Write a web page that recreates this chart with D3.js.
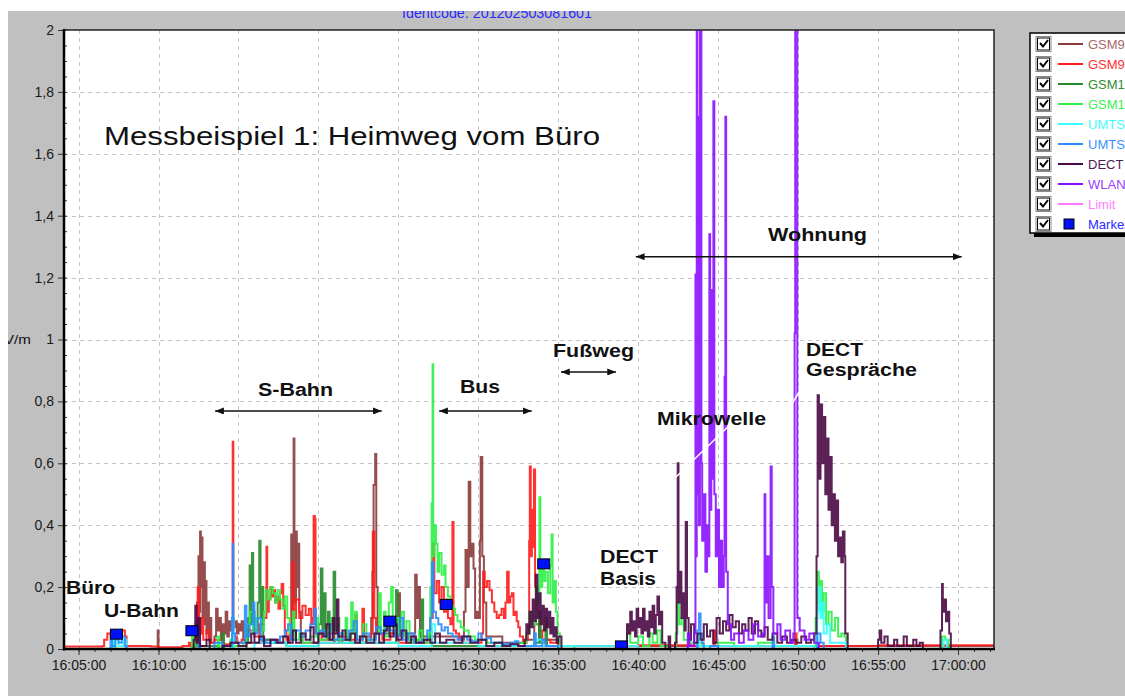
<!DOCTYPE html>
<html>
<head>
<meta charset="utf-8">
<script src="https://cdn.jsdelivr.net/npm/d3@7/dist/d3.min.js"></script>
<style>
  html, body { margin: 0; padding: 0; background: #fff; }
  svg { display: block; font-family: "Liberation Sans", Arial, sans-serif; }
</style>
</head>
<body>
<svg id="chart" width="1125" height="696"></svg>
<script>
// time = minutes after 16:00, value = field strength in V/m
var gsm900dl = [[4.1,0],[9.9,0],[9.95,0.06],[10.0,0],[12.2,0],[12.3,0.05],[12.4,0.15],[12.45,0.05],[12.5,0.3],[12.55,0.12],[12.6,0.38],[12.65,0.2],[12.7,0.36],[12.75,0.1],[12.85,0.28],[12.9,0.08],[12.95,0.22],[13.0,0.05],[13.1,0.15],[13.15,0.03],[13.25,0.1],[13.3,0.02],
  [13.5,0.04],[13.6,0.13],[13.7,0.06],[13.8,0.1],[13.9,0.03],[14.0,0.08],[14.1,0.05],[14.2,0.12],[14.3,0.04],[14.4,0.09],[14.5,0.06],[14.6,0.1],[14.7,0.07],[14.8,0.09],[14.9,0.05],[15.0,0.08],[15.1,0.06],[15.2,0.09],[15.3,0.03],
  [15.5,0.02],[16.5,0.03],[17.5,0.02],[18.2,0.03],[18.3,0.37],[18.35,0.1],[18.45,0.68],[18.5,0.15],[18.6,0.38],[18.65,0.2],[18.75,0.34],[18.8,0.12],[18.9,0.05],[19.0,0.02],
  [20,0.02],[21,0.03],[22,0.02],[23.0,0.03],[23.3,0.1],[23.38,0.25],[23.45,0.53],[23.55,0.63],[23.62,0.2],[23.7,0.05],[24.9,0.04],[25.0,0.18],[25.1,0.05],
  [26.0,0.05],[26.05,0.24],[26.15,0.1],[26.25,0.2],[26.35,0.04],[28.9,0.03],[29.1,0.12],[29.2,0.32],[29.3,0.2],[29.4,0.54],[29.5,0.3],[29.6,0.34],[29.7,0.26],[29.8,0.1],[29.9,0.12],[30.0,0.1],[30.1,0.35],[30.15,0.62],[30.25,0.3],[30.35,0.15],[30.5,0.04],
  [31.5,0.02],[33.0,0.03],[33.5,0.08],[33.8,0.03],[35,0.01],[62.3,0.005]];

var gsm900ul = [[4.1,0.008],[6.5,0.01],[6.6,0.03],[6.8,0.05],[7.0,0.04],[7.2,0.055],[7.5,0.05],[7.7,0.06],[7.9,0.04],[8.0,0.01],[9.5,0.008],[10.0,0.006],[11.5,0.01],[11.9,0.02],
  [12.0,0.01],[12.3,0.08],[12.45,0.2],[12.55,0.05],[12.7,0.1],[12.8,0.03],[13.0,0.06],[13.2,0.02],[13.5,0.03],[14.0,0.015],[14.5,0.02],[14.6,0.03],[14.64,0.67],[14.68,0.04],[14.9,0.02],[15.2,0.03],[15.5,0.06],
  [16.0,0.04],[16.3,0.08],[16.6,0.1],[16.75,0.33],[16.8,0.12],[16.9,0.16],[17.0,0.2],[17.1,0.17],[17.2,0.19],[17.3,0.15],[17.4,0.17],[17.5,0.13],[17.6,0.18],[17.7,0.21],[17.8,0.14],[17.9,0.06],[18.0,0.03],
  [18.2,0.05],[18.35,0.28],[18.45,0.1],[18.6,0.16],[18.8,0.1],[19.0,0.14],[19.2,0.11],[19.4,0.13],[19.55,0.08],[19.65,0.1],[19.7,0.43],[19.78,0.42],[19.82,0.05],
  [20.2,0.03],[20.6,0.05],[21.0,0.02],[21.5,0.04],[22.0,0.03],[22.3,0.11],[22.4,0.03],[22.75,0.13],[22.85,0.04],[23.3,0.05],[23.4,0.38],[23.5,0.1],[23.6,0.05],
  [24.0,0.03],[24.5,0.05],[25.0,0.02],[25.5,0.04],[26.0,0.02],[26.8,0.03],[27.0,0.1],[27.15,0.34],[27.25,0.18],[27.4,0.22],[27.55,0.15],[27.7,0.2],[27.85,0.12],[28.0,0.16],[28.1,0.1],[28.25,0.08],[28.38,0.41],[28.45,0.06],[28.6,0.05],[28.8,0.03],[29.0,0.02],
  [30.2,0.05],[30.3,0.25],[30.4,0.2],[30.55,0.22],[30.7,0.19],[30.85,0.15],[31.0,0.12],[31.15,0.1],[31.3,0.11],[31.45,0.13],[31.6,0.1],[31.7,0.15],[31.8,0.25],[31.9,0.15],[32.0,0.17],[32.1,0.18],[32.2,0.11],[32.3,0.12],[32.4,0.09],[32.5,0.07],[32.6,0.04],[32.8,0.02],[33.0,0.03],
  [33.1,0.05],[33.18,0.35],[33.22,0.59],[33.28,0.3],[33.35,0.45],[33.42,0.33],[33.48,0.58],[33.55,0.2],[33.65,0.12],[33.8,0.06],[34.0,0.03],[34.5,0.02],[35.0,0.01],
  [40,0.012],[43.5,0.01],[44.7,0.06],[44.8,0.01],[48,0.01],[49.8,0.05],[49.9,0.01],[55,0.012],[62.3,0.012]];

var gsm1800dl = [[4.1,0],[12.0,0],[12.2,0.03],[12.3,0.06],[12.4,0.01],[13.8,0],[14.0,0.05],[14.1,0],
  [15.5,0.02],[15.6,0.1],[15.7,0.27],[15.78,0.08],[15.85,0.31],[15.92,0.12],[16.0,0.06],[16.2,0.15],[16.3,0.35],[16.38,0.1],[16.45,0.2],[16.55,0.03],[17.0,0.02],[18.0,0.01],
  [19.8,0.01],[20.0,0.08],[20.15,0.26],[20.25,0.05],[20.35,0.18],[20.45,0.04],[20.6,0.12],[20.7,0.03],[20.95,0.25],[21.05,0.06],[21.2,0.1],[21.3,0.02],
  [24.7,0.02],[24.85,0.19],[24.95,0.05],[25.5,0.03],[26.3,0.02],[26.45,0.16],[26.55,0.03],[27.0,0.06],[27.1,0.01],
  [33.5,0.02],[33.8,0.12],[33.9,0.02],[34.2,0.1],[34.3,0.01],[35,0],[62.3,0]];

var gsm1800ul = [[4.1,0],[6.9,0],[7.1,0.03],[7.3,0],[11.9,0],[12.1,0.05],[12.2,0.02],[12.3,0],[13.7,0.04],[13.8,0],[14.5,0.03],[14.7,0.01],
  [15.3,0.02],[15.5,0.08],[15.7,0.12],[15.9,0.05],[16.1,0.1],[16.4,0.06],[16.6,0.12],[16.7,0.19],[16.85,0.16],[17.0,0.2],[17.15,0.18],[17.3,0.15],[17.45,0.19],[17.6,0.16],[17.75,0.13],[17.9,0.17],[18.05,0.1],[18.2,0.05],[18.4,0.12],[18.5,0.03],[18.8,0.05],[19.0,0.02],
  [19.5,0.04],[19.9,0.1],[20.0,0.03],[20.5,0.06],[20.8,0.1],[20.9,0.03],[21.5,0.05],[21.7,0.1],[21.8,0.03],[22.05,0.15],[22.15,0.05],[22.3,0.12],[22.4,0.04],[22.8,0.08],[23.0,0.03],[23.5,0.05],[23.8,0.18],[23.9,0.06],[24.1,0.12],[24.2,0.04],[24.4,0.15],[24.55,0.2],[24.65,0.07],[24.8,0.1],[25.0,0.05],[25.2,0.12],[25.35,0.04],[25.5,0.09],[25.7,0.02],[26.0,0.03],[26.3,0.06],[26.5,0.02],
  [26.9,0.05],[27.0,0.2],[27.08,0.47],[27.14,0.92],[27.18,0.3],[27.25,0.4],[27.35,0.34],[27.45,0.25],[27.55,0.31],[27.7,0.24],[27.85,0.27],[27.95,0.2],[28.1,0.17],[28.25,0.14],[28.4,0.13],[28.55,0.11],[28.7,0.09],[28.9,0.07],[29.1,0.06],[29.4,0.04],[29.8,0.03],[30.5,0.02],[31.5,0.01],[32.5,0.02],[33.0,0.05],
  [33.2,0.12],[33.4,0.08],[33.6,0.2],[33.75,0.15],[33.82,0.49],[33.88,0.2],[34.0,0.28],[34.1,0.22],[34.2,0.25],[34.35,0.18],[34.5,0.27],[34.58,0.37],[34.65,0.15],[34.75,0.22],[34.85,0.12],[34.95,0.05],[35.1,0.01],[36,0],
  [39.2,0],[39.3,0.05],[39.5,0.02],[40.0,0.04],[40.3,0.01],[40.7,0.05],[40.9,0.02],[41.2,0.06],[41.4,0.01],[42.0,0],[42.35,0.05],[42.45,0.15],[42.55,0.08],[42.7,0.1],[42.85,0.03],[43.2,0.02],[44,0.01],[45,0.02],[46,0.01],[47.5,0.02],[48.5,0.01],
  [50.9,0.01],[51.1,0.1],[51.2,0.25],[51.3,0.15],[51.4,0.22],[51.5,0.12],[51.6,0.18],[51.75,0.08],[51.9,0.12],[52.1,0.06],[52.3,0.1],[52.5,0.04],[52.7,0.05],[52.9,0.04],[53.0,0],
  [58.8,0],[59.0,0.04],[59.2,0.03],[59.4,0],[62.3,0]];

var umtsdl = [[4.1,0],[7.0,0],[7.2,0.03],[7.5,0.01],[7.8,0.03],[8.0,0],[14.5,0],[14.64,0.1],[14.7,0],[16,0.02],[18,0.01],[20,0.02],[25,0.01],[27.1,0.08],[27.3,0.02],[30,0.01],[33.5,0.03],[34,0.01],[40,0],
  [43.5,0],[43.7,0.05],[43.8,0.01],[51.0,0],[51.2,0.12],[51.3,0.2],[51.4,0.1],[51.5,0.15],[51.6,0.05],[51.8,0.08],[52.0,0.02],[52.5,0.02],[53,0],[59.0,0],[59.1,0.03],[59.3,0],[62.3,0]];

var umtsul = [[4.1,0],[6.9,0],[7.0,0.03],[7.1,0.01],[7.3,0.04],[7.5,0.02],[7.7,0.04],[7.9,0.01],[8.0,0],[12.2,0],[12.5,0.05],[12.6,0],[13.5,0.02],[14.0,0.01],[14.6,0.1],[14.64,0.34],[14.68,0.05],[14.8,0.02],
  [15.2,0.02],[15.4,0.14],[15.5,0.04],[15.7,0.08],[15.9,0.15],[16.0,0.05],[16.2,0.1],[16.4,0.03],[16.7,0.02],[17.0,0.03],[17.3,0.02],[17.6,0.04],[17.9,0.06],[18.1,0.08],[18.3,0.03],[18.6,0.06],[18.9,0.04],[19.2,0.06],[19.5,0.08],[19.75,0.13],[19.85,0.05],
  [20.1,0.06],[20.4,0.04],[20.7,0.08],[20.9,0.03],[21.2,0.05],[21.5,0.03],[21.9,0.06],[22.2,0.09],[22.4,0.03],[22.8,0.05],[23.2,0.03],[23.6,0.07],[23.9,0.05],[24.2,0.08],[24.5,0.06],[24.8,0.04],[25.1,0.1],[25.3,0.03],[25.6,0.05],[26.0,0.02],[26.5,0.03],[26.8,0.06],
  [27.0,0.1],[27.1,0.28],[27.2,0.12],[27.35,0.1],[27.5,0.08],[27.7,0.06],[27.9,0.07],[28.1,0.05],[28.4,0.04],[28.7,0.03],[29.0,0.04],[29.3,0.03],[29.6,0.025],[30.0,0.05],[30.2,0.03],[30.5,0.035],[30.8,0.02],[31.2,0.02],[31.6,0.015],[32.0,0.02],[32.3,0.025],[32.5,0.01],
  [33.0,0.01],[33.5,0.05],[33.6,0.01],[34.0,0.03],[34.2,0.01],[35,0],[43.5,0],[43.7,0.06],[43.8,0.115],[43.9,0.05],[44.0,0.02],[44.1,0],[44.5,0.01],[45,0],[48.3,0],[48.4,0.04],[48.5,0],[51,0],[51.2,0.05],[51.4,0.02],[51.6,0],[62.3,0]];

var dect = [[4.1,0],[12.0,0],[12.2,0.03],[12.3,0.14],[12.38,0.02],[12.5,0.1],[12.6,0.01],[13.0,0.03],[13.2,0],[14.0,0.01],[14.5,0.02],[15.0,0.01],
  [15.5,0.02],[15.8,0.05],[16.0,0.02],[16.3,0.04],[16.6,0.01],[17.0,0.03],[17.4,0.02],[17.8,0.04],[18.1,0.02],[18.4,0.06],[18.6,0.02],[18.9,0.05],[19.2,0.03],[19.5,0.07],[19.7,0.02],[20.0,0.05],[20.3,0.04],[20.5,0.08],[20.7,0.03],[20.9,0.1],[21.0,0.05],[21.15,0.16],[21.25,0.04],[21.5,0.06],[21.7,0.03],[22.0,0.05],[22.3,0.02],[22.6,0.04],[23.0,0.02],[23.5,0.05],[23.8,0.02],[24.1,0.06],[24.3,0.1],[24.45,0.04],[24.7,0.08],[24.9,0.03],[25.2,0.06],[25.5,0.02],[25.8,0.04],[26.1,0.02],[26.6,0.03],[27.0,0.02],[27.3,0.05],[27.6,0.02],[28.0,0.03],[28.5,0.02],[29.0,0.04],[29.5,0.02],[30.0,0.03],[30.5,0.01],[31.0,0.02],[31.5,0.01],[32.0,0.015],[32.5,0.01],
  [32.9,0.03],[33.0,0.08],[33.1,0.05],[33.2,0.12],[33.3,0.07],[33.4,0.16],[33.5,0.09],[33.6,0.24],[33.7,0.1],[33.8,0.18],[33.9,0.08],[34.0,0.14],[34.1,0.06],[34.2,0.13],[34.3,0.07],[34.4,0.12],[34.5,0.05],[34.6,0.1],[34.7,0.04],[34.8,0.07],[34.9,0.02],[35.0,0.04],[35.2,0],
  [39.2,0],[39.3,0.08],[39.4,0.05],[39.5,0.12],[39.6,0.06],[39.7,0.09],[39.8,0.04],[39.9,0.13],[40.0,0.07],[40.1,0.1],[40.2,0.05],[40.3,0.13],[40.4,0.06],[40.5,0.09],[40.6,0.04],[40.7,0.12],[40.8,0.07],[40.9,0.14],[41.0,0.05],[41.1,0.11],[41.2,0.17],[41.3,0.08],[41.4,0.12],[41.5,0.02],[41.7,0],[41.9,0.04],[42.0,0],
  [42.3,0.02],[42.4,0.2],[42.47,0.6],[42.52,0.15],[42.6,0.25],[42.7,0.1],[42.8,0.18],[42.9,0.06],[42.97,0.41],[43.05,0.1],[43.15,0.03],[43.3,0.08],[43.5,0.02],
  [43.7,0.05],[43.9,0.03],[44.1,0.08],[44.3,0.04],[44.5,0.06],[44.7,0.02],[44.9,0.1],[45.1,0.05],[45.3,0.09],[45.5,0.06],[45.7,0.11],[45.9,0.07],[46.1,0.09],[46.3,0.05],[46.5,0.08],[46.7,0.06],[46.9,0.1],[47.1,0.05],[47.3,0.09],[47.5,0.06],[47.7,0.04],[47.9,0.07],[48.1,0.03],[48.4,0.05],[48.7,0.02],[49.0,0.04],[49.3,0.02],[49.6,0.03],[49.9,0.02],[50.2,0.04],[50.5,0.02],[50.8,0.03],
  [51.0,0.05],[51.15,0.3],[51.22,0.82],[51.3,0.55],[51.4,0.79],[51.5,0.6],[51.6,0.75],[51.7,0.5],[51.8,0.68],[51.9,0.45],[52.0,0.62],[52.1,0.4],[52.2,0.5],[52.3,0.35],[52.4,0.48],[52.5,0.3],[52.6,0.36],[52.7,0.28],[52.8,0.38],[52.9,0.3],[52.95,0.05],[53.1,0],
  [54.5,0],[55.0,0.03],[55.1,0.06],[55.2,0.02],[55.4,0.04],[55.6,0.01],[56.0,0.03],[56.2,0.01],[56.6,0.04],[56.8,0.01],[57.2,0.03],[57.4,0.01],[57.6,0.02],[57.8,0],
  [58.8,0],[58.9,0.06],[59.0,0.21],[59.05,0.12],[59.15,0.16],[59.25,0.09],[59.35,0.12],[59.45,0.05],[59.55,0],[62.3,0]];

var wlan = [[4.1,0],[43.0,0],[43.1,0.05],[43.2,0.01],[43.5,0.05],[43.58,1.21],[43.62,0.3],[43.66,2.3],[43.7,0.5],[43.76,1.72],[43.8,0.4],[43.86,2.3],[43.9,2.3],[43.95,0.6],[44.0,0.35],[44.1,0.5],[44.2,0.25],[44.3,0.4],[44.4,0.3],[44.45,1.34],[44.5,0.45],[44.57,1.16],[44.62,0.55],[44.7,1.77],[44.76,0.5],[44.85,0.3],[44.95,0.45],[45.05,0.2],[45.15,0.35],[45.25,0.2],[45.35,0.3],[45.4,0.88],[45.45,1.72],[45.5,0.25],[45.6,0.08],[45.8,0.03],[46.0,0.05],[46.3,0.02],[46.6,0.06],[46.9,0.03],[47.2,0.08],[47.5,0.04],
  [47.8,0.05],[47.9,0.5],[47.95,0.15],[48.05,0.3],[48.15,0.1],[48.28,0.59],[48.35,0.2],[48.45,0.05],[48.7,0.08],[48.9,0.03],[49.2,0.06],[49.5,0.02],[49.7,0.05],[49.78,1.02],[49.82,2.3],[49.9,2.3],[49.95,0.1],[50.1,0.06],[50.4,0.03],[50.7,0.05],[51.0,0.02],[51.3,0],[62.3,0]];

var limit = [];

var markerPoints = [[7.37,0.048],[12.09,0.059],[24.47,0.09],[27.99,0.144],[34.09,0.275],[38.95,0.01]];

var seriesNames = ["GSM900 DL", "GSM900 UL", "GSM1800 DL", "GSM1800 UL", "UMTS DL", "UMTS UL", "DECT", "WLAN", "Limit"];
var seriesColors = ["#8c3a3a", "#ff1c1c", "#23892a", "#2cef46", "#38ffff", "#2a8dff", "#4a0a45", "#8a10ff", "#ff77ff"];
var legendTextColors = ["#a86a6a", "#ff3030", "#2f8f2f", "#3cf050", "#40ffff", "#3a90ff", "#502050", "#9a40ff", "#ff80ff"];
var seriesData = [gsm900dl, gsm900ul, gsm1800dl, gsm1800ul, umtsdl, umtsul, dect, wlan, limit];

var yTicks = [0, 0.2, 0.4, 0.6, 0.8, 1, 1.2, 1.4, 1.6, 1.8, 2];
var xTicks = [5, 10, 15, 20, 25, 30, 35, 40, 45, 50, 55, 60];

var W = 1125, H = 696;
var plot = {left: 64, top: 30, right: 994, bottom: 649};
var t0 = new Date(2012, 1, 25, 16, 0, 0);
function toDate(m) { return new Date(t0.getTime() + m * 60000); }

var x = d3.scaleTime().domain([toDate(4.09), toDate(62.25)]).range([plot.left, plot.right]);
var y = d3.scaleLinear().domain([0, 2]).range([plot.bottom, plot.top]);
var deFormat = d3.formatLocale({decimal: ",", thousands: ".", grouping: [3], currency: ["", "€"]}).format("~g");

var svg = d3.select("#chart");
var defs = svg.append("defs");
defs.append("clipPath").attr("id", "panelClip").append("rect")
    .attr("x", 8).attr("y", 11).attr("width", W - 8).attr("height", H - 11);
defs.append("clipPath").attr("id", "plotClip").append("rect")
    .attr("x", plot.left).attr("y", plot.top)
    .attr("width", plot.right - plot.left).attr("height", plot.bottom - plot.top);
defs.append("marker").attr("id", "arrowHead")
    .attr("viewBox", "0 0 10 8").attr("refX", 10).attr("refY", 4)
    .attr("markerUnits", "userSpaceOnUse").attr("markerWidth", 9).attr("markerHeight", 7)
    .attr("orient", "auto-start-reverse")
  .append("path").attr("d", "M0,0 L10,4 L0,8 Z").attr("fill", "#111");

// grey panel
svg.append("rect").attr("x", 8).attr("y", 11).attr("width", W - 8).attr("height", H - 11).attr("fill", "#c0c0c0");

var panel = svg.append("g").attr("clip-path", "url(#panelClip)");
panel.append("text").attr("x", 402).attr("y", 18).attr("font-size", 14).attr("fill", "#2a2aff")
    .attr("textLength", 190).attr("lengthAdjust", "spacingAndGlyphs")
    .text("Identcode: 201202503081601");
panel.append("text").attr("x", 4).attr("y", 344).attr("font-size", 13).attr("fill", "#111")
    .attr("textLength", 27).attr("lengthAdjust", "spacingAndGlyphs").text("V/m");

// plot area
svg.append("rect").attr("x", plot.left).attr("y", plot.top)
    .attr("width", plot.right - plot.left).attr("height", plot.bottom - plot.top).attr("fill", "#fff");

var grid = svg.append("g").attr("stroke", "#c4c4c4").attr("stroke-dasharray", "4,4").attr("stroke-width", 1);
grid.selectAll("line.gx").data(xTicks).enter().append("line")
    .attr("x1", function (d) { return Math.round(x(toDate(d))) + 0.5; })
    .attr("x2", function (d) { return Math.round(x(toDate(d))) + 0.5; })
    .attr("y1", plot.top).attr("y2", plot.bottom);
grid.selectAll("line.gy").data(yTicks.slice(1, -1)).enter().append("line")
    .attr("y1", function (d) { return Math.round(y(d)) + 0.5; })
    .attr("y2", function (d) { return Math.round(y(d)) + 0.5; })
    .attr("x1", plot.left).attr("x2", plot.right);

// series
var line = d3.line()
    .curve(d3.curveStepAfter)
    .x(function (d) { return x(toDate(d[0])); })
    .y(function (d) { return y(d[1]); });

var dataG = svg.append("g").attr("clip-path", "url(#plotClip)");
seriesData.forEach(function (data, i) {
    if (!data.length) return;
    dataG.append("path")
        .datum(data)
        .attr("d", line)
        .attr("fill", "none")
        .attr("stroke", seriesColors[i])
        .attr("stroke-width", 2)
        .attr("stroke-opacity", 0.9)
        .attr("stroke-linejoin", "miter");
});

dataG.selectAll("rect.marker").data(markerPoints).enter().append("rect")
    .attr("class", "marker")
    .attr("x", function (d) { return x(toDate(d[0])) - 6; })
    .attr("y", function (d) { return y(d[1]) - 5; })
    .attr("width", 12).attr("height", 10)
    .attr("fill", "#0010ff").attr("stroke", "#000").attr("stroke-width", 1);

// white pointer lines
var pointers = [[676, 477, 738, 417], [790, 407, 804, 384]];
dataG.selectAll("line.ptr").data(pointers).enter().append("line")
    .attr("x1", function (d) { return d[0]; }).attr("y1", function (d) { return d[1]; })
    .attr("x2", function (d) { return d[2]; }).attr("y2", function (d) { return d[3]; })
    .attr("stroke", "#fff").attr("stroke-width", 1.5);

// frame and axes
svg.append("rect").attr("x", plot.left).attr("y", plot.top)
    .attr("width", plot.right - plot.left).attr("height", plot.bottom - plot.top)
    .attr("fill", "none").attr("stroke", "#222").attr("stroke-width", 1.5);

var yAxis = svg.append("g").attr("transform", "translate(" + plot.left + ",0)")
    .call(d3.axisLeft(y).tickValues(yTicks).tickSize(6).tickPadding(4).tickFormat(deFormat));
var yMinor = svg.append("g").attr("transform", "translate(" + plot.left + ",0)")
    .call(d3.axisRight(y).tickValues(d3.range(0, 2.001, 0.05)).tickSize(3).tickFormat(""));
var xAxis = svg.append("g").attr("transform", "translate(0," + plot.bottom + ")")
    .call(d3.axisBottom(x).tickValues(xTicks.map(toDate)).tickSize(6).tickPadding(5)
        .tickFormat(d3.timeFormat("%H:%M:%S")));
var xMinor = svg.append("g").attr("transform", "translate(0," + plot.bottom + ")")
    .call(d3.axisBottom(x).tickValues(d3.range(5, 62.1, 1).map(toDate)).tickSize(3).tickFormat(""));

[yAxis, yMinor, xAxis, xMinor].forEach(function (g) {
    g.select(".domain").remove();
    g.selectAll("line").attr("stroke", "#333");
    g.selectAll("text").attr("font-size", 14).attr("fill", "#1a1a1a")
        .attr("font-family", "\"Liberation Sans\", Arial, sans-serif");
});

svg.append("line").attr("x1", plot.left).attr("x2", plot.left).attr("y1", plot.top - 1).attr("y2", plot.bottom + 1.5)
    .attr("stroke", "#000").attr("stroke-width", 2.5);
svg.append("line").attr("x1", plot.left - 1).attr("x2", plot.right + 1).attr("y1", plot.bottom).attr("y2", plot.bottom)
    .attr("stroke", "#000").attr("stroke-width", 2.5);

// annotations
svg.append("text").attr("x", 104).attr("y", 145).attr("font-size", 25).attr("fill", "#111")
    .attr("textLength", 496).attr("lengthAdjust", "spacingAndGlyphs")
    .text("Messbeispiel 1: Heimweg vom Büro");

var labels = [
    ["Büro", 66, 594, 49], ["U-Bahn", 104, 617, 75], ["S-Bahn", 258, 396, 75], ["Bus", 460, 393, 40],
    ["Fußweg", 553, 357, 81], ["DECT", 600, 563, 58], ["Basis", 600, 585, 56], ["Mikrowelle", 657, 425, 109],
    ["DECT", 806, 356, 57], ["Gespräche", 806, 376, 111], ["Wohnung", 768, 241, 99]
];
svg.append("g").selectAll("text").data(labels).enter().append("text")
    .attr("x", function (d) { return d[1]; })
    .attr("y", function (d) { return d[2]; })
    .attr("textLength", function (d) { return d[3]; })
    .attr("lengthAdjust", "spacingAndGlyphs")
    .attr("font-size", 18).attr("font-weight", "bold").attr("fill", "#111")
    .text(function (d) { return d[0]; });

var arrows = [[13.54, 23.96, 0.769], [27.55, 33.34, 0.769], [35.17, 38.61, 0.895], [39.85, 60.23, 1.2675]];
svg.append("g").selectAll("line").data(arrows).enter().append("line")
    .attr("x1", function (d) { return x(toDate(d[0])); })
    .attr("x2", function (d) { return x(toDate(d[1])); })
    .attr("y1", function (d) { return y(d[2]); })
    .attr("y2", function (d) { return y(d[2]); })
    .attr("stroke", "#111").attr("stroke-width", 1.5)
    .attr("marker-start", "url(#arrowHead)").attr("marker-end", "url(#arrowHead)");

// legend (clipped by the window edge, as in the original screenshot)
var legend = svg.append("g");
legend.append("rect").attr("x", 1034).attr("y", 37).attr("width", 120).attr("height", 200).attr("fill", "#000");
legend.append("rect").attr("x", 1030).attr("y", 33).attr("width", 120).attr("height", 200)
    .attr("fill", "#fff").attr("stroke", "#000").attr("stroke-width", 1.5);

var legendItems = seriesNames.map(function (n, i) {
    return {name: n, color: seriesColors[i], text: legendTextColors[i], marker: false};
});
legendItems.push({name: "Marker", color: "#0010ff", text: "#2a2aff", marker: true});

var rows = legend.selectAll("g.row").data(legendItems).enter().append("g")
    .attr("transform", function (d, i) { return "translate(0," + (44 + i * 20) + ")"; });
rows.append("rect").attr("x", 1036).attr("y", -7.5).attr("width", 15).attr("height", 15)
    .attr("fill", "#fff").attr("stroke", "#8a8a8a");
rows.append("rect").attr("x", 1037.5).attr("y", -6).attr("width", 12).attr("height", 12)
    .attr("fill", "#fff").attr("stroke", "#000").attr("stroke-width", 1);
rows.append("path").attr("d", "M1040,-1 L1043,2.5 L1048,-4")
    .attr("fill", "none").attr("stroke", "#000").attr("stroke-width", 2);
rows.filter(function (d) { return !d.marker; }).append("line")
    .attr("x1", 1058).attr("x2", 1083).attr("y1", 0).attr("y2", 0)
    .attr("stroke", function (d) { return d.color; }).attr("stroke-width", 2);
rows.filter(function (d) { return d.marker; }).append("rect")
    .attr("x", 1064).attr("y", -5).attr("width", 10).attr("height", 10)
    .attr("fill", function (d) { return d.color; }).attr("stroke", "#000");
rows.append("text").attr("x", 1088).attr("y", 5).attr("font-size", 13)
    .attr("fill", function (d) { return d.text; })
    .text(function (d) { return d.name; });
</script>
</body>
</html>
